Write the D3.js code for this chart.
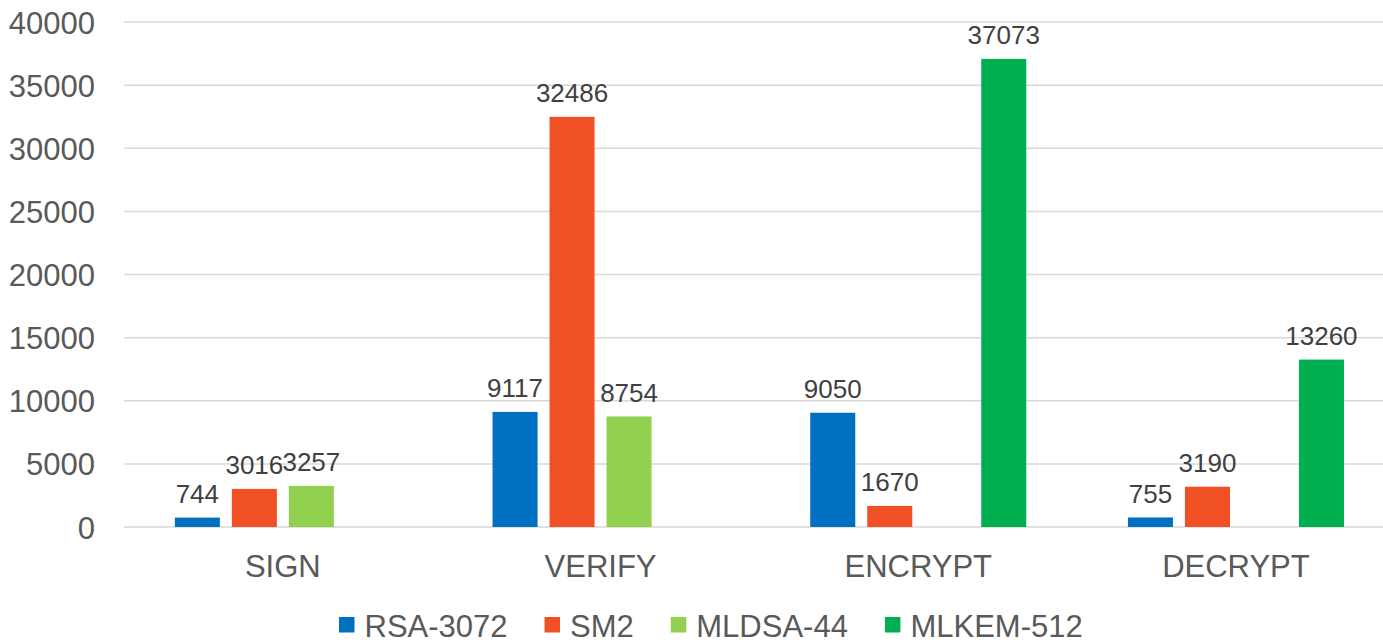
<!DOCTYPE html>
<html>
<head>
<meta charset="utf-8">
<script src="https://cdn.jsdelivr.net/npm/d3@7"></script>
<style>
  html, body { margin: 0; padding: 0; background: #ffffff; }
  svg { display: block; font-family: "Liberation Sans", Arial, sans-serif; }
</style>
</head>
<body>
<svg id="chart" width="1383" height="642"></svg>
<script>
const categories = ["SIGN", "VERIFY", "ENCRYPT", "DECRYPT"];
const seriesNames = ["RSA-3072", "SM2", "MLDSA-44", "MLKEM-512"];
const rsa3072 = [744, 9117, 9050, 755];
const sm2 = [3016, 32486, 1670, 3190];
const mldsa44 = [3257, 8754, null, null];
const mlkem512 = [null, null, 37073, 13260];
const yTicks = [0, 5000, 10000, 15000, 20000, 25000, 30000, 35000, 40000];
const colors = ["#0070C0", "#F05023", "#92D050", "#00B050"];

const seriesValues = [rsa3072, sm2, mldsa44, mlkem512];

const svg = d3.select("#chart");
const W = 1383, H = 642;

const x0 = d3.scaleBand().domain(categories).range([124, 1394.8])
  .paddingInner(0.32).paddingOuter(0.16);
const x1 = d3.scaleBand().domain(seriesNames).range([0, x0.bandwidth()])
  .paddingInner(0.21).paddingOuter(0);
const y = d3.scaleLinear().domain([0, 40000]).range([527, 22]);

// gridlines
svg.append("g").selectAll("line").data(yTicks).join("line")
  .attr("x1", 124).attr("x2", W)
  .attr("y1", d => y(d)).attr("y2", d => y(d))
  .attr("stroke", "#d9d9d9").attr("stroke-width", 1.5);

// y tick labels
svg.append("g").selectAll("text").data(yTicks).join("text")
  .attr("x", 95).attr("y", d => y(d) + 11.5)
  .attr("text-anchor", "end")
  .attr("font-size", 31).attr("fill", "#595959")
  .text(d => d);

// bars
const rows = [];
categories.forEach((c, i) => {
  seriesNames.forEach((s, j) => {
    const v = seriesValues[j][i];
    if (v !== null && v !== undefined) rows.push({ c, s, j, v });
  });
});

svg.append("g").selectAll("rect").data(rows).join("rect")
  .attr("x", d => x0(d.c) + x1(d.s))
  .attr("width", x1.bandwidth())
  .attr("y", d => y(d.v))
  .attr("height", d => y(0) - y(d.v))
  .attr("fill", d => colors[d.j]);

// data labels
svg.append("g").selectAll("text").data(rows).join("text")
  .attr("x", d => x0(d.c) + x1(d.s) + x1.bandwidth() / 2)
  .attr("y", d => y(d.v) - 14.5)
  .attr("text-anchor", "middle")
  .attr("font-size", 26).attr("fill", "#404040")
  .text(d => d.v);

// category labels
svg.append("g").selectAll("text").data(categories).join("text")
  .attr("x", d => x0(d) + x0.bandwidth() / 2)
  .attr("y", 577)
  .attr("text-anchor", "middle")
  .attr("font-size", 31).attr("fill", "#595959")
  .text(d => d);

// legend
const legend = svg.append("g");
let lx = 339;
seriesNames.forEach((s, j) => {
  legend.append("rect").attr("x", lx).attr("y", 617).attr("width", 15.5).attr("height", 15.5)
    .attr("fill", colors[j]);
  const t = legend.append("text").attr("x", lx + 25.5).attr("y", 636.5)
    .attr("font-size", 31).attr("fill", "#595959").text(s);
  lx += 25.5 + t.node().getComputedTextLength() + 37;
});
</script>
</body>
</html>
